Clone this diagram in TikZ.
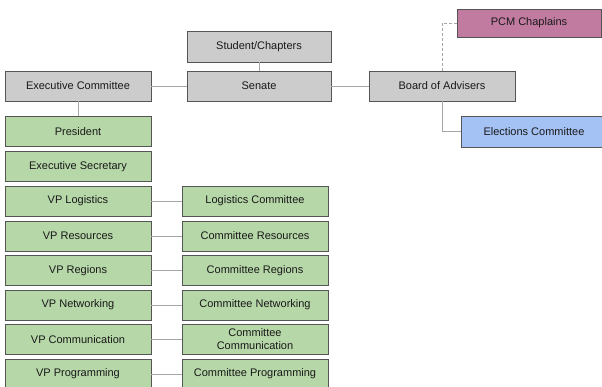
\documentclass[tikz,border=0pt]{standalone}
\usepackage{fontspec}
\setmainfont{Liberation Sans}
\begin{document}
\begin{tikzpicture}[x=1pt,y=-1pt,
  box/.style={draw=boxline, line width=0.8pt, minimum width=146pt, minimum height=30pt,
    inner sep=1pt, align=center, font=\fontsize{11}{12}\selectfont, text=black!90},
  grey/.style={box, fill=boxgrey},
  green/.style={box, fill=boxgreen},
  link/.style={draw=linkgrey, line width=1pt}]
\definecolor{boxline}{HTML}{555555}
\definecolor{boxgrey}{HTML}{CCCCCC}
\definecolor{boxgreen}{HTML}{B6D7A8}
\definecolor{boxpink}{HTML}{C27BA0}
\definecolor{boxblue}{HTML}{A4C2F4}
\definecolor{linkgrey}{HTML}{A6A6A6}
\useasboundingbox (0,0) rectangle (602,386);
\clip (0,0) rectangle (602,386);

% top level
\node[grey, minimum width=144pt, minimum height=31pt] (stud) at (259,46.5) {Student/Chapters};
\node[grey, minimum width=144pt] (senate) at (259,86) {Senate};
\node[grey] (exec) at (78,86) {Executive Committee};
\node[grey] (board) at (442,86) {Board of Advisers};
\node[box, fill=boxpink, minimum width=144pt, minimum height=28pt] (pcm) at (529,23) {PCM Chaplains};
\node[box, fill=boxblue, minimum height=31pt] (elect) at (534,131.5) {Elections Committee};

% executive column
\node[green] (pres) at (78,131.5) {President};
\node[green] (sec) at (78,166.5) {Executive Secretary};
\node[green] (vplog) at (78,201) {VP Logistics};
\node[green] (vpres) at (78,236) {VP Resources};
\node[green] (vpreg) at (78,270.5) {VP Regions};
\node[green] (vpnet) at (78,305) {VP Networking};
\node[green] (vpcom) at (78,339.5) {VP Communication};
\node[green] (vpprog) at (78,374) {VP Programming};

% committees
\node[green] (clog) at (255,201) {Logistics Committee};
\node[green] (cres) at (255,236) {Committee Resources};
\node[green] (creg) at (255,270.5) {Committee Regions};
\node[green] (cnet) at (255,305) {Committee Networking};
\node[green, font=\fontsize{11}{13}\selectfont] (ccom) at (255,339.5) {Committee\\Communication};
\node[green] (cprog) at (255,374) {Committee Programming};

% connectors
\draw[link] (stud.south) -- (senate.north);
\draw[link] (exec.east) -- (senate.west);
\draw[link] (senate.east) -- (board.west);
\draw[link] (exec.south) -- (pres.north);
\draw[link, dashed, dash pattern=on 3pt off 2pt] (board.north) |- (pcm.west);
\draw[link] (board.south) |- (elect.west);
\draw[link] (vplog.east) -- (clog.west);
\draw[link] (vpres.east) -- (cres.west);
\draw[link] (vpreg.east) -- (creg.west);
\draw[link] (vpnet.east) -- (cnet.west);
\draw[link] (vpcom.east) -- (ccom.west);
\draw[link] (vpprog.east) -- (cprog.west);
\end{tikzpicture}
\end{document}
